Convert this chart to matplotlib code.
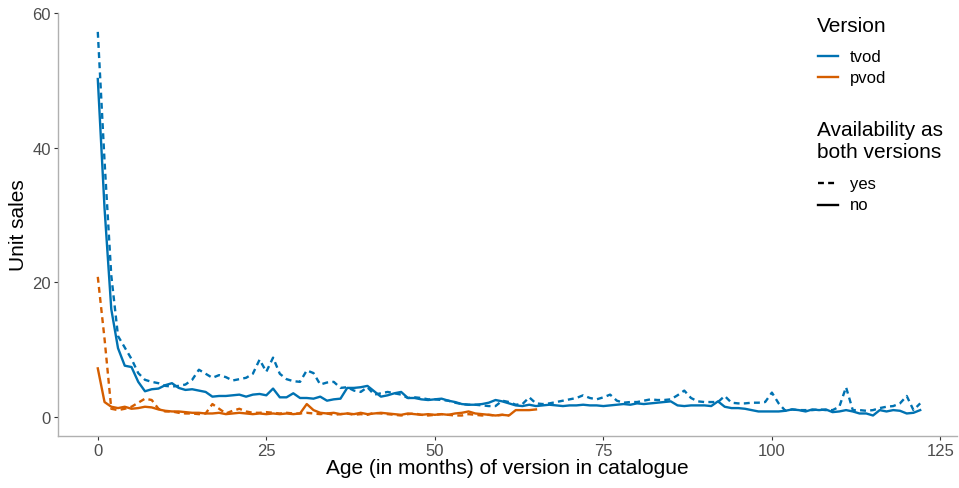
import numpy as np
import matplotlib
matplotlib.use("Agg")
import matplotlib.pyplot as plt
from matplotlib.lines import Line2D

plt.rcParams['font.family'] = ['Liberation Sans', 'DejaVu Sans']

blue = '#0072B2'
orange = '#D55E00'

# monthly unit sales by age of the version in the catalogue
tvod_no = [50.2, 31, 16, 10.2, 7.6, 7.4, 5.2, 3.8, 4.1, 4.2,
           4.7, 5.0, 4.3, 4.0, 4.1, 3.9, 3.7, 3.0, 3.1, 3.1,
           3.2, 3.3, 3.0, 3.3, 3.4, 3.2, 4.2, 2.9, 2.9, 3.5,
           2.8, 2.8, 2.7, 3.0, 2.4, 2.6, 2.7, 4.3, 4.3, 4.4,
           4.6, 3.8, 3.0, 3.2, 3.5, 3.7, 2.8, 2.8, 2.6, 2.5,
           2.6, 2.7, 2.4, 2.2, 1.9, 1.8, 1.8, 1.9, 2.1, 2.5,
           2.3, 2.0, 1.7, 1.6, 1.8, 1.6, 1.7, 1.8, 1.7, 1.6,
           1.7, 1.7, 1.8, 1.7, 1.7, 1.6, 1.7, 1.8, 1.9, 1.8,
           2.0, 1.9, 2.0, 2.1, 2.2, 2.3, 1.7, 1.6, 1.7, 1.7,
           1.7, 1.6, 2.3, 1.5, 1.3, 1.3, 1.2, 1.0, 0.8, 0.8,
           0.8, 0.8, 0.9, 1.1, 1.0, 0.8, 1.1, 1.0, 1.1, 0.7,
           0.8, 1.0, 0.8, 0.5, 0.5, 0.2, 1.0, 0.8, 1.0, 0.9,
           0.5, 0.6, 1.0]
tvod_yes = [57.2, 38, 21, 12, 10.3, 8.6, 6.5, 5.5, 5.2, 5.0,
            4.6, 4.5, 4.6, 4.8, 5.5, 7.0, 6.4, 5.8, 6.2, 5.9,
            5.4, 5.6, 5.8, 6.4, 8.5, 6.7, 8.8, 6.4, 5.6, 5.3,
            5.2, 6.9, 6.5, 4.8, 5.1, 5.2, 4.3, 4.4, 3.9, 3.7,
            4.4, 3.3, 3.5, 3.7, 3.5, 3.3, 2.8, 2.9, 2.8, 2.6,
            2.6, 2.5, 2.4, 2.1, 1.9, 1.8, 1.8, 1.7, 1.6, 1.6,
            2.4, 2.2, 1.8, 1.9, 2.9, 2.0, 1.9, 2.0, 2.2, 2.4,
            2.6, 2.8, 3.2, 2.8, 2.6, 2.9, 3.3, 2.4, 2.1, 2.2,
            2.2, 2.4, 2.6, 2.5, 2.5, 2.6, 3.2, 3.9, 2.8, 2.3,
            2.2, 2.2, 2.2, 3.1, 2.1, 2.0, 2.0, 2.1, 2.1, 2.2,
            3.6, 2.0, 0.9, 1.1, 1.0, 1.0, 1.0, 1.1, 1.0, 1.0,
            1.5, 4.4, 1.0, 1.0, 0.9, 1.0, 1.3, 1.5, 1.6, 2.0,
            3.1, 1.0, 2.0]
pvod_yes = [20.8, 11.6, 1.2, 1.0, 1.2, 1.5, 2.1, 2.7, 2.5, 1.2,
            0.8, 0.8, 0.6, 0.5, 0.5, 0.4, 0.5, 1.9, 1.2, 0.5,
            0.9, 1.2, 0.8, 0.6, 0.6, 0.7, 0.6, 0.5, 0.6, 0.5,
            0.5, 0.6, 0.5, 0.4, 0.5, 0.3, 0.4, 0.5, 0.3, 0.4,
            0.3, 0.6, 0.5, 0.4, 0.3, 0.2, 0.4, 0.5, 0.3, 0.2,
            0.3, 0.4, 0.3, 0.2, 0.2, 0.4, 0.3, 0.2, 0.3, 0.2,
            0.3, 0.2]
pvod_no = [7.2, 2.2, 1.5, 1.3, 1.5, 1.2, 1.3, 1.5, 1.4, 1.1,
           0.9, 0.8, 0.8, 0.7, 0.6, 0.6, 0.5, 0.5, 0.6, 0.4,
           0.5, 0.6, 0.5, 0.4, 0.5, 0.4, 0.5, 0.4, 0.5, 0.4,
           0.5, 1.9, 1.0, 0.6, 0.5, 0.6, 0.4, 0.5, 0.4, 0.6,
           0.4, 0.5, 0.6, 0.5, 0.4, 0.3, 0.5, 0.4, 0.3, 0.4,
           0.3, 0.4, 0.3, 0.5, 0.6, 0.8, 0.5, 0.4, 0.3, 0.2,
           0.3, 0.2, 1.0, 1.0, 1.0, 1.1]

lw = 1.7
dash = (0, (2.5, 1.8))

W, H = 959, 489
fig = plt.figure(figsize=(W / 100, H / 100), dpi=100)
ax = fig.add_axes([0.0605, 0.1063, 0.937, 0.865])

ax.plot(np.arange(len(tvod_no)), tvod_no, color=blue, lw=lw)
ax.plot(np.arange(len(tvod_yes)), tvod_yes, color=blue, lw=lw, linestyle=dash)
ax.plot(np.arange(len(pvod_no)), pvod_no, color=orange, lw=lw)
ax.plot(np.arange(len(pvod_yes)), pvod_yes, color=orange, lw=lw, linestyle=dash)

ax.set_xlim(-5.9, 127.4)
ax.set_ylim(-2.85, 60.0)
ax.set_xticks([0, 25, 50, 75, 100, 125])
ax.set_yticks([0, 20, 40, 60])

for s in ['top', 'right']:
    ax.spines[s].set_visible(False)
for s in ['left', 'bottom']:
    ax.spines[s].set_color('#b0b0b0')
    ax.spines[s].set_linewidth(1.0)
ax.tick_params(colors='#333333', labelcolor='#4d4d4d', labelsize=12,
               length=3, width=0.8, pad=2)
ax.set_xlabel('Age (in months) of version in catalogue', fontsize=15,
              color='black', labelpad=0)
ax.set_ylabel('Unit sales', fontsize=15, color='black', labelpad=3)


# legend drawn by hand in pixel coordinates (from the top-left corner)
def px(x, y):
    return x / W, 1 - y / H


def key(y, label, color, style):
    fig.add_artist(Line2D([818 / W, 838 / W], [1 - y / H] * 2, color=color,
                          lw=lw, linestyle=style, transform=fig.transFigure))
    fig.text(*px(850, y), label, fontsize=12, va='center', ha='left')


fig.text(*px(817, 26), 'Version', fontsize=15, va='center', ha='left')
key(57, 'tvod', blue, '-')
key(78, 'pvod', orange, '-')
fig.text(*px(817, 141), 'Availability as\nboth versions', fontsize=15,
         va='center', ha='left', linespacing=1.2)
key(184, 'yes', 'black', dash)
key(206, 'no', 'black', '-')

fig.savefig('out.png', dpi=100)
